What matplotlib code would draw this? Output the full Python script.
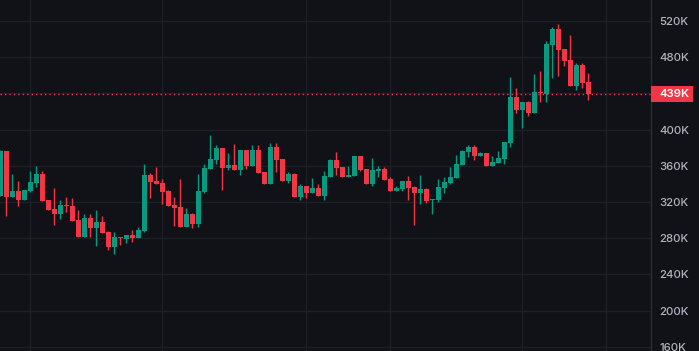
import matplotlib.pyplot as plt  # graficos
import matplotlib.transforms as mtransforms  # mezclar coordenadas de ejes y datos
from matplotlib.patches import Rectangle  # caja de la etiqueta de precio

# Valores OHLC en miles (K), una vela por periodo
opens = [327.0, 376.3, 325.8, 332.1, 322.2, 332.1, 341.3, 350.9, 322.2, 312.3,
         306.7, 316.7, 315.6, 300.1, 281.3, 302.3, 291.3, 297.9, 286.8, 270.3,
         281.3, 279.1, 283.5, 280.2, 287.9, 349.8, 343.2, 341.0, 332.1, 316.7,
         314.5, 292.4, 306.7, 295.7, 331.0, 356.5, 366.4, 379.7, 357.6, 360.9,
         355.4, 377.4, 359.8, 377.4, 353.2, 339.9, 380.8, 367.5, 343.2, 350.9,
         325.5, 337.7, 329.9, 335.5, 326.6, 347.6, 366.4, 358.7, 347.6, 348.7,
         370.8, 356.5, 339.9, 354.3, 356.5, 345.4, 332.1, 334.4, 343.2, 336.6,
         329.9, 334.4, 322.2, 322.2, 335.5, 341.0, 346.5, 360.9, 375.2, 380.8,
         370.8, 374.1, 359.8, 363.1, 367.5, 385.2, 436.0, 421.7, 430.5, 418.3,
         441.5, 439.3, 493.5, 511.2, 489.1, 476.9, 448.2, 471.4, 452.6]
highs = [377.4, 376.3, 350.9, 343.2, 333.3, 354.3, 359.8, 354.3, 322.2, 335.5,
         322.2, 325.5, 324.4, 311.2, 306.7, 306.7, 311.2, 304.5, 287.9, 286.8,
         281.3, 283.5, 289.1, 292.4, 362.0, 352.0, 358.7, 345.4, 333.3, 325.5,
         345.4, 313.4, 307.8, 350.9, 362.0, 394.0, 383.0, 379.7, 374.1, 384.1,
         377.4, 377.4, 383.0, 383.0, 353.2, 385.2, 385.2, 367.5, 353.2, 352.0,
         339.9, 337.7, 346.5, 339.9, 354.3, 367.5, 375.2, 358.7, 359.8, 370.8,
         370.8, 356.5, 368.6, 359.8, 358.7, 347.6, 337.7, 343.2, 348.7, 337.7,
         349.8, 335.5, 323.3, 345.4, 347.6, 358.7, 371.9, 377.4, 383.0, 383.0,
         375.2, 374.1, 370.8, 376.3, 386.3, 458.1, 446.0, 430.5, 431.6, 461.4,
         464.7, 497.9, 513.4, 516.7, 489.1, 504.5, 473.6, 473.6, 462.6]
lows = [327.0, 304.5, 325.8, 315.9, 322.2, 331.0, 336.9, 321.1, 311.2, 294.6,
        301.2, 308.9, 299.0, 281.3, 281.3, 281.3, 271.4, 286.1, 266.9, 262.5,
        272.5, 274.7, 275.8, 280.2, 286.8, 324.4, 339.9, 317.8, 315.6, 293.5,
        292.4, 292.4, 291.3, 292.4, 329.9, 356.5, 362.0, 333.3, 355.4, 355.4,
        349.8, 356.5, 359.8, 352.0, 339.9, 339.9, 353.2, 343.2, 341.0, 325.5,
        322.2, 324.4, 329.9, 326.6, 322.2, 347.6, 349.8, 347.6, 347.6, 348.7,
        354.3, 339.9, 337.7, 347.6, 344.3, 332.1, 332.1, 332.1, 322.2, 294.6,
        317.8, 319.0, 306.7, 320.0, 329.9, 339.9, 346.5, 360.9, 369.7, 366.4,
        370.8, 359.8, 359.8, 363.1, 362.0, 380.8, 418.3, 401.8, 415.0, 418.3,
        430.5, 430.5, 457.0, 459.2, 470.3, 448.2, 443.8, 445.9, 432.7]
closes = [376.3, 325.8, 332.1, 322.2, 333.3, 342.1, 350.9, 321.1, 311.2, 306.7,
          316.7, 315.9, 299.0, 281.3, 302.3, 291.3, 297.9, 286.1, 270.3, 281.3,
          280.2, 283.5, 280.2, 289.1, 349.8, 342.1, 339.9, 331.0, 315.6, 313.4,
          292.4, 306.7, 295.7, 332.1, 357.6, 367.5, 379.7, 357.6, 360.9, 355.4,
          377.4, 359.8, 377.4, 352.0, 339.9, 380.8, 366.4, 343.2, 350.9, 325.5,
          337.7, 330.0, 335.5, 326.6, 348.7, 366.4, 357.6, 347.6, 349.8, 370.8,
          355.4, 339.9, 355.4, 356.5, 344.3, 332.1, 335.5, 343.2, 335.5, 329.9,
          334.4, 321.1, 323.3, 336.6, 342.1, 347.6, 362.0, 376.3, 380.8, 370.8,
          374.1, 359.8, 364.2, 368.6, 386.3, 436.0, 421.7, 430.5, 418.3, 441.5,
          440.4, 494.6, 511.2, 487.9, 475.8, 448.2, 471.4, 451.5, 439.3]

grid_ticks = [160, 200, 240, 280, 320, 360, 400, 440, 480, 520]
price_ticks = [t for t in grid_ticks if t != 440]  # la etiqueta roja tapa 440K
period_lines = [5, 27, 51, 65, 87, 101]  # lineas verticales de la rejilla

BG = "#111217"
GRID = "#1d1f26"
UP = "#089981"
DOWN = "#f23645"
TEXT = "#b2b5be"

W, H = 699, 351
PLOT_W = 651  # ancho del area de velas en pixeles

plt.rcParams["font.family"] = ["Inter", "DejaVu Sans"]

fig = plt.figure(figsize=(W / 100, H / 100), dpi=100, facecolor=BG)
ax = fig.add_axes([0, 0, PLOT_W / W, 1])
ax.set_facecolor(BG)

# Velas: mechas y cuerpos
for i, (o, h, l, c) in enumerate(zip(opens, highs, lows, closes)):
    color = UP if c >= o else DOWN
    ax.vlines(i, l, h, color=color, linewidth=1.0, zorder=3)
    body = max(abs(c - o), 0.9)
    ax.bar(i, body, bottom=min(o, c), width=0.8, color=color, linewidth=0, zorder=4)

# Rejilla
for t in grid_ticks:
    ax.axhline(t, color=GRID, linewidth=1.0, zorder=1)
for p in period_lines:
    ax.axvline(p, color=GRID, linewidth=1.0, zorder=1)

# Limites: 6 px por vela, primera vela a 0.3 px del borde
ax.set_xlim(-0.3 / 6, (PLOT_W - 0.3) / 6)
ax.set_ylim(543.2 - 1.105 * H, 543.2)

# Eje de precios a la derecha
ax.yaxis.tick_right()
ax.set_yticks(price_ticks)
ax.set_yticklabels([f"{t}K" for t in price_ticks])
ax.tick_params(axis="y", length=0, pad=5.8, labelsize=8.2, labelcolor=TEXT)
for lbl in ax.get_yticklabels():
    lbl.set_fontweight("medium")
ax.set_xticks([])
for side in ["top", "left", "bottom"]:
    ax.spines[side].set_visible(False)
ax.spines["right"].set_color("#2a2d35")
ax.spines["right"].set_linewidth(1.0)

# Linea de ultimo precio y etiqueta
last = closes[-1]
ax.axhline(last, color=DOWN, linewidth=1.0, linestyle=(0, (1, 2.2)), zorder=2)
trans = mtransforms.blended_transform_factory(ax.transAxes, ax.transData)
box_h = 16 * 1.105
ax.add_patch(Rectangle((1.0, last - box_h / 2), 42 / PLOT_W, box_h, transform=trans,
                       facecolor=DOWN, edgecolor="none", clip_on=False, zorder=5))
ax.text(1.0 + 8 / PLOT_W, last, f"{round(last)}K", transform=trans, ha="left",
        va="center", color="white", fontsize=8.2, fontweight="semibold", zorder=6, clip_on=False)

plt.savefig("out.png", dpi=100, facecolor=BG)
plt.close()
